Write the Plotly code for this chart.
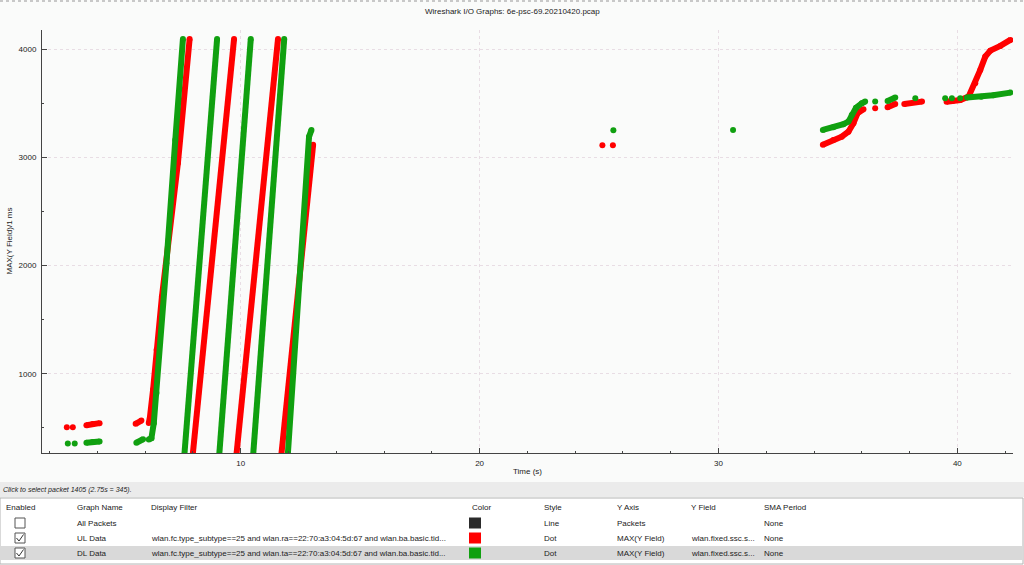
import plotly.graph_objects as go

# ---------------- data ----------------
title_text = "Wireshark I/O Graphs: 6e-psc-69.20210420.pcap"
x_title = "Time (s)"
y_title = "MAX(Y Field)/1 ms"

# UL Data (red) - None separates runs of dots
ul_time = [2.72, None, 2.97, None,
           3.54, 3.80, 4.09, None,
           5.60, 5.84, None,
           6.15, 6.19, 6.33, 6.48, 6.70, 7.37, 7.86, None,
           7.99, 9.72, None,
           9.82, 11.56, None,
           11.70, 13.03, None,
           25.14, None, 25.58, None,
           34.37, 34.81, 35.16, 35.44, 35.65, 35.82, 36.07, None,
           36.56, None,
           37.08, 37.40, None,
           37.78, 38.52, None,
           39.55, 39.80, 40.12, 40.47, 40.75, 40.96, 41.17, 41.38, 41.80, 42.22]
ul_value = [506, None, 506, None,
            524, 535, 543, None,
            537, 567, None,
            545, 583, 851, 1221, 1711, 2949, 4095, None,
            250, 4095, None,
            250, 4095, None,
            250, 3116, None,
            3113, None, 3113, None,
            3116, 3162, 3192, 3238, 3316, 3408, 3445, None,
            3455, None,
            3464, 3494, None,
            3494, 3516, None,
            3515, 3522, 3531, 3562, 3686, 3809, 3932, 3987, 4031, 4086]

# DL Data (green)
dl_time = [2.76, None, 3.05, None,
           3.54, 3.80, 4.09, None,
           5.63, 5.91, None,
           6.15, 6.26, 6.36, 6.47, 6.89, 7.26, 7.58, None,
           7.64, 9.01, None,
           9.10, 10.42, None,
           10.52, 11.82, None,
           11.97, 12.86, 12.96, None,
           25.60, None, 30.61, None,
           34.37, 34.81, 35.23, 35.44, 35.58, 35.76, 36.00, 36.14, None,
           36.56, None,
           37.08, 37.40, None,
           38.24, None, 39.49, None, 39.77, None, 40.12, None,
           40.40, 41.00, 41.50, 42.22]
dl_value = [354, None, 354, None,
            362, 368, 373, None,
            362, 394, None,
            392, 404, 543, 821, 2022, 3162, 4095, None,
            250, 4095, None,
            250, 4095, None,
            250, 4095, None,
            250, 3192, 3254, None,
            3251, None, 3254, None,
            3254, 3279, 3307, 3331, 3393, 3460, 3501, 3516, None,
            3516, None,
            3522, 3553, None,
            3547, None, 3547, None, 3547, None, 3547, None,
            3553, 3560, 3575, 3599]

x_tick_vals = [10, 20, 30, 40]
y_tick_vals = [1000, 2000, 3000, 4000]
x_range = [1.68, 42.33]
y_range = [267, 4178]

table_headers = ["Enabled", "Graph Name", "Display Filter", "Color", "Style",
                 "Y Axis", "Y Field", "SMA Period"]
graph_names = ["All Packets", "UL Data", "DL Data"]
graph_enabled = [False, True, True]
display_filters = ["",
                   "wlan.fc.type_subtype==25 and wlan.ra==22:70:a3:04:5d:67 and wlan.ba.basic.tid...",
                   "wlan.fc.type_subtype==25 and wlan.ta==22:70:a3:04:5d:67 and wlan.ba.basic.tid..."]
graph_colors = ["#2b2b2b", "#ff0000", "#10a010"]
graph_styles = ["Line", "Dot", "Dot"]
graph_y_axes = ["Packets", "MAX(Y Field)", "MAX(Y Field)"]
graph_y_fields = ["", "wlan.fixed.ssc.s...", "wlan.fixed.ssc.s..."]
graph_sma = ["None", "None", "None"]
status_text = "Click to select packet 1405 (2.75s = 345)."

# ---------------- layout geometry ----------------
W, H = 1024, 565
L, R, T, B = 42, 11, 30, 112
PW, PH = W - L - R, H - T - B
FONT = "Liberation Sans"
TXT = "#222222"


def px(x):
    return (x - L) / PW


def py(y):
    return (H - B - y) / PH


fig = go.Figure()
fig.add_trace(go.Scatter(x=ul_time, y=ul_value, mode="lines+markers",
                         line=dict(color=graph_colors[1], width=6),
                         marker=dict(color=graph_colors[1], size=6),
                         connectgaps=False, name=graph_names[1]))
fig.add_trace(go.Scatter(x=dl_time, y=dl_value, mode="lines+markers",
                         line=dict(color=graph_colors[2], width=6),
                         marker=dict(color=graph_colors[2], size=6),
                         connectgaps=False, name=graph_names[2]))

shapes = []
annotations = []


def label(x, y, text, size=8, xanchor="left", color=TXT, textangle=0):
    annotations.append(dict(x=px(x), y=py(y), xref="paper", yref="paper",
                            text=text, showarrow=False, xanchor=xanchor,
                            yanchor="middle", textangle=textangle,
                            font=dict(family=FONT, size=size, color=color)))


def rect(x0, y0, x1, y1, fill, line=None, lw=1):
    shapes.append(dict(type="rect", xref="paper", yref="paper",
                       x0=px(x0), x1=px(x1), y0=py(y1), y1=py(y0),
                       fillcolor=fill, layer="above",
                       line=dict(color=line if line else fill, width=lw if line else 0)))


# window top edge
shapes.append(dict(type="line", xref="paper", yref="paper",
                   x0=px(0), x1=px(W), y0=py(1), y1=py(1),
                   line=dict(color="#c8c8c8", width=2, dash="dot"), layer="above"))

# title and axis titles
label(W / 2, 12, title_text, size=8, xanchor="center")
label((L + W - R) / 2, 471, x_title, size=8, xanchor="center")
label(9, (T + H - B) / 2, y_title, size=8, xanchor="center", textangle=-90)

# status band
rect(0, 482, W, 497, "#ebebeb")
label(1, 490, "<i>" + status_text + "</i>", size=7)

# table
rect(0, 498, W - 1, H - 1, "#ffffff", line="#b4b4b4")
rect(1, 546, W - 2, 560, "#d9d9d9")
col_x = [4, 75, 149, 470, 542, 615, 689, 762]
for cx, h in zip(col_x, table_headers):
    label(cx, 507, h)

row_y = [523, 538, 553]
for i, ry in enumerate(row_y):
    # checkbox
    rect(15, ry - 5, 25, ry + 5, "#ffffff", line="#555555")
    if graph_enabled[i]:
        shapes.append(dict(type="path", xref="paper", yref="paper",
                           path="M {} {} L {} {} L {} {}".format(
                               px(16.5), py(ry), px(19), py(ry + 3), px(23.5), py(ry - 3.5)),
                           line=dict(color="#333333", width=1), layer="above"))
    label(col_x[1], ry, graph_names[i])
    label(col_x[2], ry, display_filters[i])
    rect(469, ry - 5.5, 481, ry + 5.5, graph_colors[i])
    label(col_x[4], ry, graph_styles[i])
    label(col_x[5], ry, graph_y_axes[i])
    label(col_x[6], ry, graph_y_fields[i])
    label(col_x[7], ry, graph_sma[i])

axis_common = dict(showline=True, linecolor="#444444", linewidth=1, mirror=False,
                   ticks="inside", ticklen=5, tickcolor="#444444", tickwidth=1,
                   showgrid=True, gridcolor="#e8dde4", griddash="dot", gridwidth=1,
                   zeroline=False, tickfont=dict(family=FONT, size=8, color=TXT))

fig.update_layout(
    width=W, height=H,
    margin=dict(l=L, r=R, t=T, b=B, pad=0),
    paper_bgcolor="#fafbfa", plot_bgcolor="#fafbfa",
    showlegend=False,
    xaxis=dict(range=x_range, tickvals=x_tick_vals, ticklabelstandoff=2,
               minor=dict(dtick=2, tick0=0, ticks="inside", ticklen=2,
                          tickcolor="#444444", showgrid=False),
               **axis_common),
    yaxis=dict(range=y_range, tickvals=y_tick_vals, ticklabelstandoff=3,
               minor=dict(dtick=500, tick0=0, ticks="inside", ticklen=2,
                          tickcolor="#444444", showgrid=False),
               **axis_common),
    shapes=shapes, annotations=annotations,
)

fig.write_html("out.html",
               config={"displayModeBar": False},
               post_script="document.body.style.margin='0';"
                           "document.body.style.overflow='hidden';")
